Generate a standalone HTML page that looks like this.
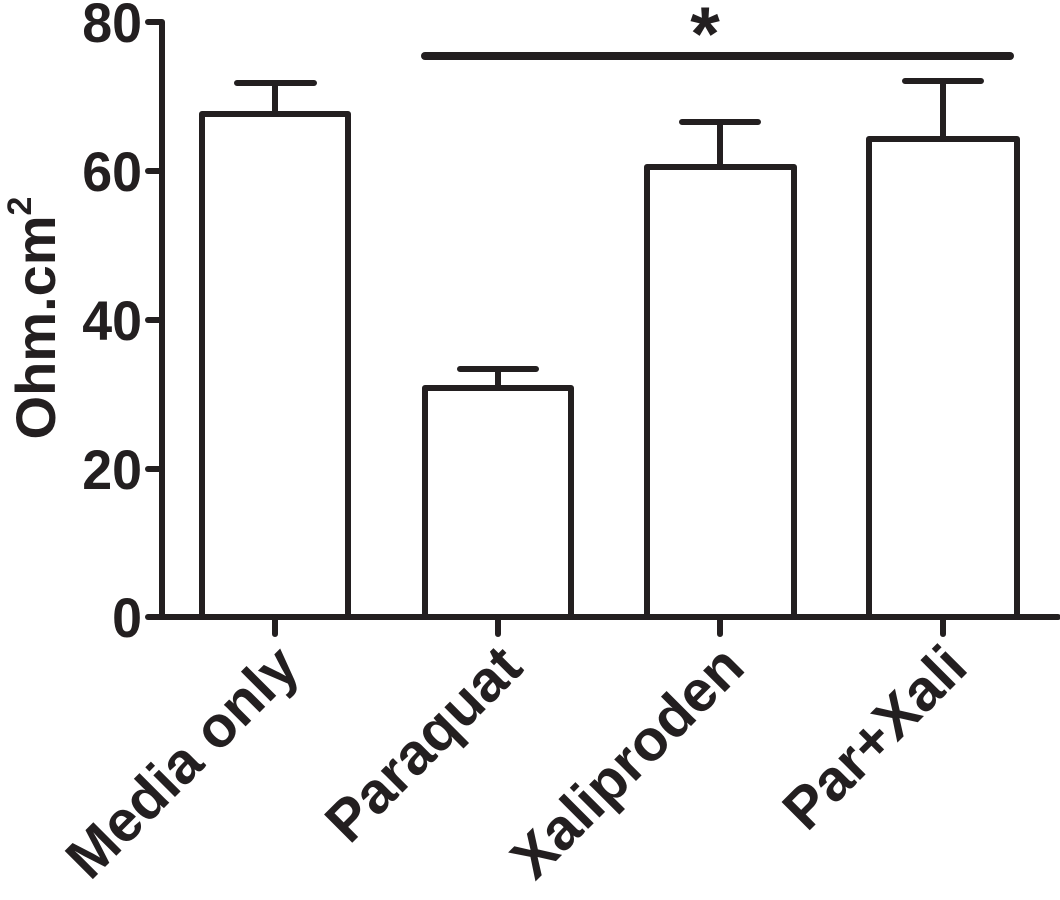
<!DOCTYPE html>
<html><head><style>
html,body{margin:0;padding:0;background:#fff;}
svg{display:block;}
text{font-family:"Liberation Sans",Arial,sans-serif;font-weight:bold;fill:#231f20;}
</style></head><body>
<svg width="1060" height="900" viewBox="0 0 1060 900">
<g stroke="#231f20" stroke-width="6" fill="none" stroke-linecap="round" stroke-linejoin="round">
<path d="M148 22 H162 V617"/>
<path d="M148 171 H162"/><path d="M148 320 H162"/><path d="M148 469 H162"/>
<path d="M148 617 H1058"/>
<path d="M275 617 V634"/><path d="M498 617 V634"/><path d="M720 617 V634"/><path d="M943 617 V634"/>
<path d="M202 617 V114 H348 V617"/>
<path d="M425 617 V388 H571 V617"/>
<path d="M647 617 V167 H794 V617"/>
<path d="M869 617 V139 H1017 V617"/>
<path d="M275 114 V83 M237 83 H314"/>
<path d="M498 388 V369 M460 369 H536"/>
<path d="M720 167 V122 M682 122 H758"/>
<path d="M943 139 V81 M905 81 H981"/>
</g>
<path d="M425 56 H1010" stroke="#231f20" stroke-width="8" stroke-linecap="round"/>
<text x="705" y="60" font-size="76" text-anchor="middle">*</text>
<g font-size="56" text-anchor="end">
<text transform="translate(142,42) scale(0.96,1)">80</text>
<text transform="translate(142,191) scale(0.96,1)">60</text>
<text transform="translate(142,340) scale(0.96,1)">40</text>
<text transform="translate(142,489) scale(0.96,1)">20</text>
<text transform="translate(142,637) scale(0.96,1)">0</text>
</g>
<text transform="translate(55,318) rotate(-90)" font-size="56" text-anchor="middle">Ohm.cm<tspan font-size="34" dy="-24">2</tspan></text>
<g font-size="58" text-anchor="end">
<text transform="translate(302,670) rotate(-45)">Media only</text>
<text transform="translate(525,670) rotate(-45)">Paraquat</text>
<text transform="translate(747,670) rotate(-45)">Xaliproden</text>
<text transform="translate(970,670) rotate(-45)">Par+Xali</text>
</g>
</svg>
</body></html>
